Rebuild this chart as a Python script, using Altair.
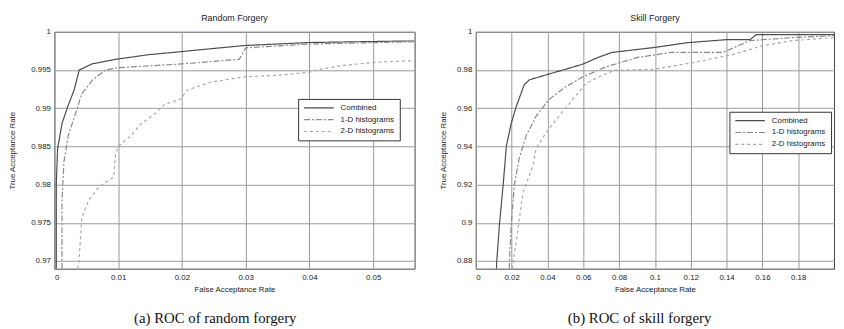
import altair as alt
import pandas as pd

SERIES = ["Combined", "1-D histograms", "2-D histograms"]
COLORS = ["#4d4d4d", "#8a8a8a", "#a8a8a8"]
DASHES = [[1, 0], [6, 2, 2, 2], [3, 3]]

# ---- (a) Random forgery ----
rf_comb_x = [0.0003, 0.0003, 0.0003, 0.0005, 0.0012, 0.002, 0.0031, 0.0039, 0.0059, 0.0096, 0.0147, 0.0198, 0.0297, 0.040, 0.0554, 0.0565]
rf_comb_y = [0.969, 0.9705, 0.980, 0.9847, 0.988, 0.990, 0.9924, 0.995, 0.9958, 0.9964, 0.997, 0.9974, 0.9982, 0.9986, 0.9988, 0.9988]
rf_1d_x = [0.0012, 0.0012, 0.0015, 0.0022, 0.003, 0.0043, 0.006, 0.008, 0.010, 0.020, 0.029, 0.030, 0.040, 0.0565]
rf_1d_y = [0.969, 0.978, 0.983, 0.9865, 0.9885, 0.9919, 0.9937, 0.995, 0.9953, 0.9958, 0.9964, 0.9979, 0.9984, 0.9987]
rf_2d_x = [0.0037, 0.0039, 0.0043, 0.0054, 0.007, 0.0093, 0.0096, 0.010, 0.012, 0.0135, 0.0158, 0.0173, 0.0198, 0.0209, 0.0245, 0.0297, 0.0348, 0.040, 0.041, 0.0452, 0.0503, 0.0554, 0.0565]
rf_2d_y = [0.969, 0.9705, 0.9757, 0.978, 0.9797, 0.981, 0.984, 0.985, 0.9864, 0.9879, 0.9893, 0.9905, 0.9912, 0.9924, 0.9934, 0.9941, 0.9943, 0.9947, 0.995, 0.9956, 0.996, 0.9962, 0.9962]

# ---- (b) Skill forgery ----
sf_comb_x = [0.0116, 0.0116, 0.0132, 0.0154, 0.0171, 0.0198, 0.0226, 0.027, 0.0298, 0.0408, 0.0501, 0.0595, 0.0683, 0.076, 0.0997, 0.1179, 0.140, 0.1532, 0.1565, 0.200]
sf_comb_y = [0.876, 0.8785, 0.899, 0.9212, 0.9403, 0.9521, 0.9609, 0.9722, 0.9748, 0.9779, 0.9804, 0.983, 0.9866, 0.9892, 0.9918, 0.9943, 0.9959, 0.9959, 0.9985, 0.9985]
sf_1d_x = [0.0187, 0.0187, 0.0198, 0.0215, 0.0242, 0.0281, 0.0336, 0.0408, 0.0501, 0.0595, 0.0722, 0.0904, 0.109, 0.138, 0.153, 0.177, 0.200]
sf_1d_y = [0.876, 0.8785, 0.899, 0.9197, 0.9336, 0.9454, 0.9557, 0.9645, 0.9712, 0.9763, 0.9815, 0.9866, 0.9892, 0.9892, 0.9954, 0.997, 0.998]
sf_2d_x = [0.0204, 0.0215, 0.0226, 0.0264, 0.032, 0.0336, 0.0391, 0.0463, 0.054, 0.0612, 0.0683, 0.0777, 0.0997, 0.1218, 0.1438, 0.1603, 0.1769, 0.200]
sf_2d_y = [0.876, 0.8836, 0.8903, 0.9161, 0.930, 0.9387, 0.947, 0.9557, 0.9645, 0.9727, 0.9763, 0.9799, 0.9804, 0.984, 0.9882, 0.9928, 0.9954, 0.997]

rf_x_ticks = [0, 0.01, 0.02, 0.03, 0.04, 0.05]
rf_y_ticks = [0.97, 0.975, 0.98, 0.985, 0.99, 0.995, 1]
sf_x_ticks = [0, 0.02, 0.04, 0.06, 0.08, 0.1, 0.12, 0.14, 0.16, 0.18]
sf_y_ticks = [0.88, 0.9, 0.92, 0.94, 0.96, 0.98, 1]


def make_df(xs_list, ys_list):
    rows = []
    for name, xs, ys in zip(SERIES, xs_list, ys_list):
        for i, (x, y) in enumerate(zip(xs, ys)):
            rows.append({"series": name, "far": x, "tar": y, "idx": i})
    return pd.DataFrame(rows)


def panel(df, title, caption, xdom, ydom, xvals, yvals, legx, legy, ytp, capx, width):
    leg = alt.Legend(
        title=None, orient="none", legendX=legx, legendY=legy, direction="vertical",
        strokeColor="#333", fillColor="white", padding=5, labelFontSize=8,
        labelFont="Liberation Sans", labelColor="#222", symbolSize=36,
        symbolStrokeWidth=1.2, symbolType="M-1,0H9", rowPadding=4, labelOffset=30,
    )
    lines = alt.Chart(df).mark_line(clip=True, strokeWidth=1.2).encode(
        x=alt.X("far:Q", scale=alt.Scale(domain=xdom, nice=False, zero=False),
                axis=alt.Axis(title="False Acceptance Rate", values=xvals, format="~g",
                              labelPadding=5, titlePadding=4)),
        y=alt.Y("tar:Q", scale=alt.Scale(domain=ydom, nice=False, zero=False),
                axis=alt.Axis(title="True Acceptance Rate", values=yvals, format="~g",
                              labelPadding=4, titlePadding=ytp)),
        color=alt.Color("series:N", scale=alt.Scale(domain=SERIES, range=COLORS), legend=leg),
        strokeDash=alt.StrokeDash("series:N", scale=alt.Scale(domain=SERIES, range=DASHES), legend=leg),
        order="idx:Q",
    )
    cap = alt.Chart(pd.DataFrame({"t": [caption]})).mark_text(
        font="Liberation Serif", fontSize=15, baseline="middle", align="center", color="#111"
    ).encode(text="t:N", x=alt.value(capx), y=alt.value(290))
    return alt.layer(lines, cap).properties(
        width=width, height=240,
        title=alt.TitleParams(title, fontSize=9, font="Liberation Sans", fontWeight="normal",
                              color="#222", offset=5),
    )


df_a = make_df([rf_comb_x, rf_1d_x, rf_2d_x], [rf_comb_y, rf_1d_y, rf_2d_y])
df_b = make_df([sf_comb_x, sf_1d_x, sf_2d_x], [sf_comb_y, sf_1d_y, sf_2d_y])

pa = panel(df_a, "Random Forgery", "(a) ROC of random forgery", [0, 0.0565], [0.969, 1.0],
           rf_x_ticks, rf_y_ticks, 247, 68, 14, 163, 365)
pb = panel(df_b, "Skill Forgery", "(b) ROC of skill forgery", [0, 0.2], [0.876, 1.0],
           sf_x_ticks, sf_y_ticks, 257, 81, 9.5, 166, 363)

chart = alt.hconcat(pa, pb, spacing=23).resolve_scale(
    color="independent", strokeDash="independent"
).resolve_legend(
    color="independent", strokeDash="independent"
).properties(
    padding={"left": 0, "top": 3, "right": 1, "bottom": 0}
).configure_axis(
    labelFont="Liberation Sans", titleFont="Liberation Sans", labelFontSize=8, titleFontSize=8,
    titleFontWeight="normal", labelColor="#222", titleColor="#222",
    gridColor="#999999", gridWidth=1, ticks=False, domain=False,
).configure_view(stroke="#444", strokeWidth=1)

chart.save("out.html", embed_options={"renderer": "svg", "actions": False})
